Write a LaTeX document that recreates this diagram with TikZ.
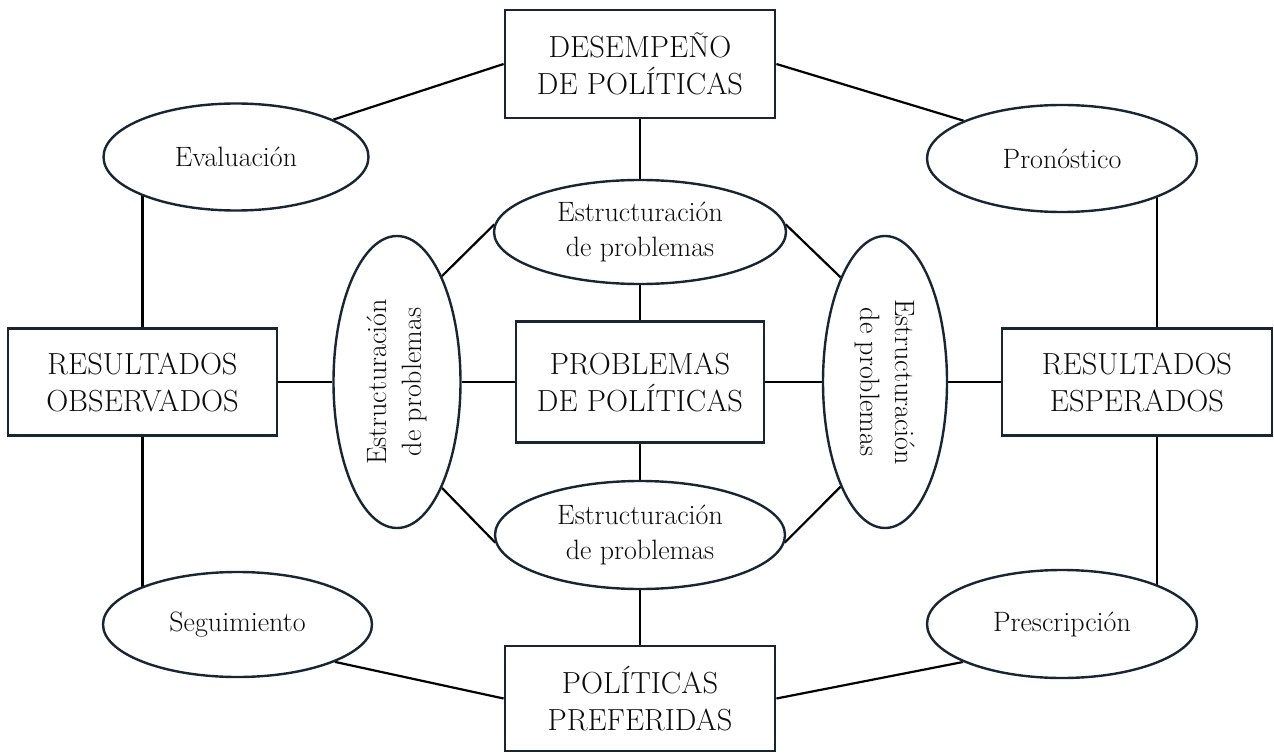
\documentclass[tikz,border=0pt]{standalone}
\usepackage{fontspec}
\usetikzlibrary{shapes.geometric,backgrounds}
\definecolor{frame}{RGB}{24,38,52}
\definecolor{ink}{RGB}{12,12,12}
\begin{document}
\begin{tikzpicture}[x=1pt,y=-1pt,
  box/.style={draw=frame,line width=2.8pt,fill=white,rectangle,align=center,
    inner sep=0pt,text=ink,font=\fontsize{30.5}{37}\selectfont},
  oval/.style={draw=frame,line width=2.4pt,fill=white,ellipse,align=center,
    inner sep=0pt,text=ink,font=\fontsize{28}{35}\selectfont},
  link/.style={draw=black,line width=2.2pt}]
\useasboundingbox (0,0) rectangle (1274,754);

% rectangular stages
\node[box,minimum width=270pt,minimum height=108pt] (des) at (640,64) {DESEMPEÑO\\DE POLÍTICAS};
\node[box,minimum width=270pt,minimum height=105pt] (pref) at (640,698.5) {POLÍTICAS\\PREFERIDAS};
\node[box,minimum width=269pt,minimum height=107pt] (resobs) at (142.5,382) {RESULTADOS\\OBSERVADOS};
\node[box,minimum width=270pt,minimum height=107pt] (resesp) at (1137,382) {RESULTADOS\\ESPERADOS};
\node[box,minimum width=248pt,minimum height=121pt] (prob) at (640,382) {PROBLEMAS\\DE POLÍTICAS};

% outer procedures
\node[oval,minimum width=265pt,minimum height=107pt] (eval) at (236,157) {Evaluación};
\node[oval,minimum width=270pt,minimum height=107pt] (pron) at (1062,158.5) {Pronóstico};
\node[oval,minimum width=269pt,minimum height=105pt] (seg) at (237.5,624.5) {Seguimiento};
\node[oval,minimum width=270pt,minimum height=108pt] (presc) at (1062,624) {Prescripción};

% problem structuring ring
\node[oval,minimum width=292pt,minimum height=104pt] (estT) at (640,232) {Estructuración\\de problemas};
\node[oval,minimum width=290pt,minimum height=108pt] (estB) at (640,535) {Estructuración\\de problemas};
\node[oval,rotate=90,minimum width=292pt,minimum height=127pt] (estL) at (397,382) {Estructuración\\de problemas};
\node[oval,rotate=-90,minimum width=292pt,minimum height=124pt] (estR) at (885,382) {Estructuración\\de problemas};

\begin{scope}[on background layer]
  % outer cycle
  \draw[link] (eval.21) -- (des.west);
  \draw[link] (des.east) -- (pron.159);
  \draw[link] (resobs.north) -- (resobs.north |- eval.center);
  \draw[link] (resobs.south) -- (resobs.south |- seg.center);
  \draw[link] ([xshift=20pt]resesp.north) -- ([xshift=20pt]resesp.north |- pron.center);
  \draw[link] ([xshift=20pt]resesp.south) -- ([xshift=20pt]resesp.south |- presc.center);
  \draw[link] (seg.-21) -- (pref.west);
  \draw[link] (pref.east) -- (presc.-159);
  % spokes to the centre
  \draw[link] (des.south) -- (estT);
  \draw[link] (estT) -- (prob.north);
  \draw[link] (prob.south) -- (estB);
  \draw[link] (estB) -- (pref.north);
  \draw[link] (resobs.east) -- (estL);
  \draw[link] (estL) -- (prob.west);
  \draw[link] (prob.east) -- (estR);
  \draw[link] (estR) -- (resesp.west);
  % inner ring
  \draw[link] (estT.177) -- (estL.-23);
  \draw[link] (estT.3) -- (estR.203);
  \draw[link] (estB.183) -- (estL.-157);
  \draw[link] (estB.-3) -- (estR.-23);
\end{scope}
\end{tikzpicture}
\end{document}
